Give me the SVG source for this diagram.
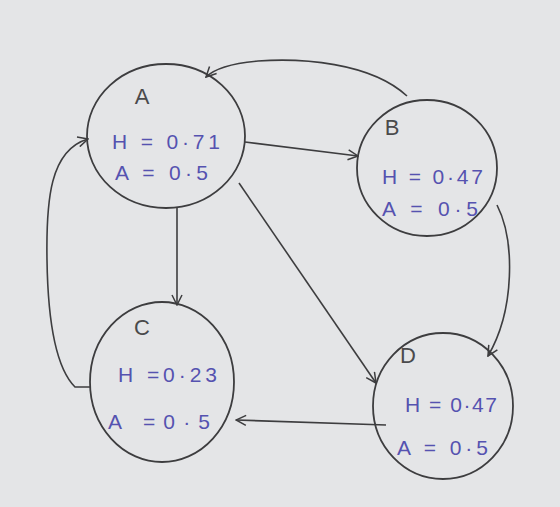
<svg xmlns="http://www.w3.org/2000/svg" width="560" height="507" viewBox="0 0 560 507">
<defs>
<style>
.node{fill:none;stroke:#3d3d3f;stroke-width:1.8}
.edge{fill:none;stroke:#3d3d3f;stroke-width:1.6;marker-end:url(#arr)}
.name{font-family:"Liberation Sans",sans-serif;font-size:22px;fill:#4a4a4c;text-anchor:middle}
.val{font-family:"Liberation Sans",sans-serif;font-size:21px;fill:#5552b0}
</style>
<marker id="arr" viewBox="0 0 12 12" refX="11" refY="6" markerWidth="12" markerHeight="12" markerUnits="userSpaceOnUse" orient="auto">
<path d="M1,1 L11,6 L1,11" fill="none" stroke="#3d3d3f" stroke-width="1.5"/>
</marker>
</defs>
<rect width="560" height="507" fill="#e4e5e7"/>
<g id="connectors">
<path class="edge" d="M407,96 C370,62 300,58 258,61 C235,63 215,68 206,77"/>
<path class="edge" d="M245,142 L358,156"/>
<path class="edge" d="M177,208 L177,305"/>
<path class="edge" d="M239,183 L376,383"/>
<path class="edge" d="M497,205 C515,240 515,310 488,356"/>
<path class="edge" d="M386,425 L236,420"/>
<path class="edge" d="M90,387 L75,387 C58,370 48,330 47,260 C46,200 50,150 88,139"/>
</g>
<g id="A">
<ellipse class="node" cx="166" cy="136" rx="79" ry="72"/>
<text class="name" x="142" y="104">A</text>
<text class="val" x="112" y="149" textLength="108" lengthAdjust="spacing">H = 0·71</text>
<text class="val" x="115" y="180" textLength="93" lengthAdjust="spacing">A = 0·5</text>
</g>
<g id="B">
<ellipse class="node" cx="427" cy="168" rx="70" ry="68"/>
<text class="name" x="392" y="135">B</text>
<text class="val" x="382" y="184" textLength="101" lengthAdjust="spacing">H = 0·47</text>
<text class="val" x="382" y="216" textLength="96" lengthAdjust="spacing">A = 0·5</text>
</g>
<g id="C">
<ellipse class="node" cx="162" cy="382" rx="72" ry="80"/>
<text class="name" x="142" y="335">C</text>
<text class="val" x="118" y="382" textLength="99" lengthAdjust="spacing">H =0·23</text>
<text class="val" x="108" y="429" textLength="102" lengthAdjust="spacing">A =0·5</text>
</g>
<g id="D">
<ellipse class="node" cx="443" cy="406" rx="70" ry="73"/>
<text class="name" x="408" y="363">D</text>
<text class="val" x="405" y="412" textLength="92" lengthAdjust="spacing">H = 0·47</text>
<text class="val" x="397" y="455" textLength="91" lengthAdjust="spacing">A = 0·5</text>
</g>
</svg>
